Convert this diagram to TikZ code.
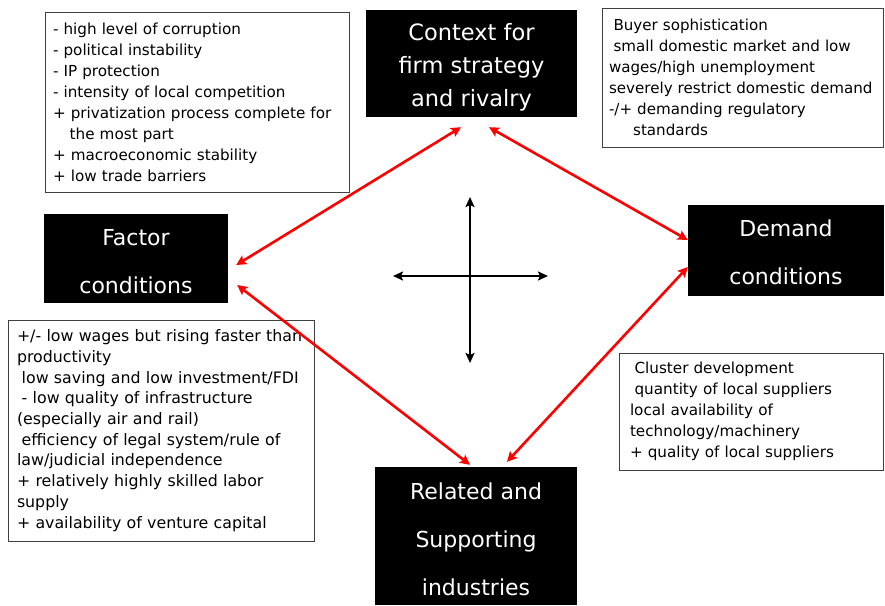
\documentclass[tikz,border=0pt]{standalone}
\usepackage{fontspec}
\setmainfont{DejaVu Sans}
\usetikzlibrary{arrows.meta}

\begin{document}
\begin{tikzpicture}[x=1pt,y=-1pt,
   force/.style={fill=black,text=white,align=center,inner sep=0pt,text depth=0pt},
   note/.style={draw=black!75,line width=.8pt,align=left,inner ysep=0pt},
   link/.style={red,line width=2.6pt,{Stealth[length=10pt,width=10pt,inset=2pt]}-{Stealth[length=10pt,width=10pt,inset=2pt]}},
   axis/.style={black,line width=2.8pt,{Stealth[length=10pt,width=9pt,inset=2pt]}-{Stealth[length=10pt,width=9pt,inset=2pt]}}]
   \useasboundingbox (0,0) rectangle (885,605);

   % the four corners of the diamond
   \node[force,minimum width=211pt,minimum height=107pt,text height=85pt,font=\fontsize{22.5}{33}\selectfont] (ctx) at (471.5,63.5) {Context for\\firm strategy\\and rivalry};
   \node[force,minimum width=184pt,minimum height=89pt,text height=70pt,font=\fontsize{22}{48}\selectfont] (fac) at (136,258.5) {Factor\\conditions};
   \node[force,minimum width=196pt,minimum height=91pt,text height=68.7pt,font=\fontsize{22}{48}\selectfont] (dem) at (786,250.5) {Demand\\conditions};
   \node[force,minimum width=202pt,minimum height=138pt,text height=118.7pt,font=\fontsize{22}{48}\selectfont] (rel) at (476,536) {Related and\\Supporting\\industries};

   % comment boxes
   \node[note,minimum width=304pt,minimum height=180pt,inner xsep=8pt,text width=288pt,font=\fontsize{15.2}{21}\selectfont] (ctxnote) at (197,102)
     {- high level of corruption\\
      - political instability\\
      - IP protection\\
      - intensity of local competition\\
      + privatization process complete for\\
      \hspace*{1.1em}the most part\\
      + macroeconomic stability\\
      + low trade barriers};
   \node[note,minimum width=281pt,minimum height=139pt,inner xsep=7pt,text width=267pt,font=\fontsize{15.1}{21}\selectfont] (demnote) at (742.5,77.5)
     {\hspace*{.3em}Buyer sophistication\\
      \hspace*{.3em}small domestic market and low\\
      wages/high unemployment\\
      severely restrict domestic demand\\
      -/+ demanding regulatory\\
      \hspace*{1.6em}standards};
   \node[note,minimum width=306pt,minimum height=221pt,inner xsep=9pt,text width=288pt,font=\fontsize{15.8}{20.7}\selectfont] (facnote) at (161,430.5)
     {+/- low wages but rising faster than\\
      productivity\\
      \hspace*{.3em}low saving and low investment/FDI\\
      \hspace*{.3em}- low quality of infrastructure\\
      (especially air and rail)\\
      \hspace*{.3em}efficiency of legal system/rule of\\
      law/judicial independence\\
      + relatively highly skilled labor\\
      supply\\
      + availability of venture capital};
   \node[note,minimum width=264pt,minimum height=117pt,inner xsep=11pt,text width=242pt,font=\fontsize{15.2}{21}\selectfont] (relnote) at (751,411.5)
     {\hspace*{.3em}Cluster development\\
      \hspace*{.3em}quantity of local suppliers\\
      local availability of\\
      technology/machinery\\
      + quality of local suppliers};

   % arrow ends
   \coordinate (ctx-fac) at ([xshift=-10.5pt,yshift=-10pt]ctx.south);
   \coordinate (ctx-dem) at ([xshift=17.5pt,yshift=-10pt]ctx.south);
   \coordinate (fac-ctx) at ([xshift=8pt,yshift=-6.5pt]fac.east);
   \coordinate (fac-rel) at ([xshift=9pt,yshift=-26.5pt]fac.east);
   \coordinate (dem-ctx) at ([yshift=10.5pt]dem.west);
   \coordinate (dem-rel) at ([yshift=-16.5pt]dem.west);
   \coordinate (rel-fac) at ([xshift=-6pt,yshift=2pt]rel.north);
   \coordinate (rel-dem) at ([xshift=31pt,yshift=5pt]rel.north);

   \draw[link] (ctx-fac) -- (fac-ctx);
   \draw[link] (ctx-dem) -- (dem-ctx);
   \draw[link] (fac-rel) -- (rel-fac);
   \draw[link] (dem-rel) -- (rel-dem);

   % cross in the middle
   \coordinate (up) at (470,197);
   \coordinate (down) at (470,363);
   \coordinate (left) at (393,276);
   \coordinate (right) at (548,276);
   \draw[axis] (up) -- (down);
   \draw[axis] (left) -- (right);

\end{tikzpicture}
\end{document}
